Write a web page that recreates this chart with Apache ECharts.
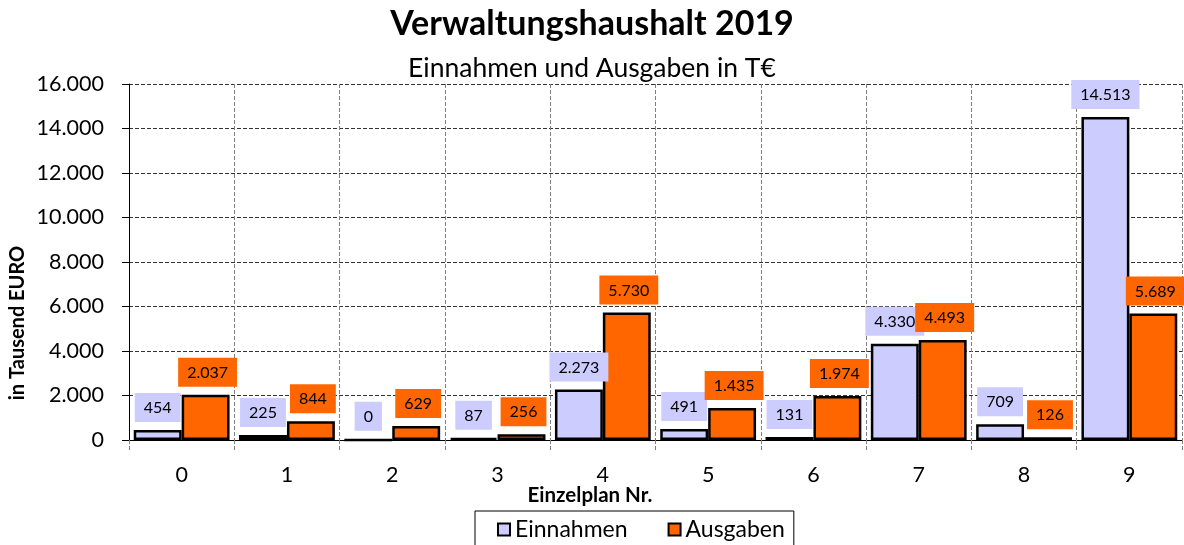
<!DOCTYPE html>
<html><head><meta charset="utf-8">
<script src="https://cdn.jsdelivr.net/npm/echarts@6/dist/echarts.min.js"></script>
<style>html,body{margin:0;padding:0;background:#fff}#c{width:1184px;height:545px}</style>
</head><body><div id="c"></div>
<script>
const categories = ['0','1','2','3','4','5','6','7','8','9'];
const einnahmen = [454, 225, 0, 87, 2273, 491, 131, 4330, 709, 14513];
const ausgaben = [2037, 844, 629, 256, 5730, 1435, 1974, 4493, 126, 5689];
const yTicks = [0, 2000, 4000, 6000, 8000, 10000, 12000, 14000, 16000];

const FONT = 'Lato, "Open Sans", sans-serif';
function de(v){ return String(v).replace(/\B(?=(\d{3})+(?!\d))/g, '.'); }

const chart = echarts.init(document.getElementById('c'));
function lbl(bg, dx){
  return {show:true, position:'top', distance:8, offset:[dx,0], color:'#000', fontFamily:FONT, fontSize:16,
    backgroundColor:bg, padding:[7,9,6,9], formatter:p=>de(p.value)};
}
chart.setOption({
  animation:false,
  title:[
    {text:'Verwaltungshaushalt 2019', left:'center', top:2, textStyle:{fontFamily:FONT, fontSize:34, fontWeight:'bold', color:'#000'}},
    {text:'Einnahmen und Ausgaben in T€', left:'center', top:50, textStyle:{fontFamily:FONT, fontSize:26.5, fontWeight:'normal', color:'#000'}}
  ],
  graphic:[
    {type:'text', x:18, y:323, rotation:Math.PI/2,
      style:{text:'in Tausend EURO', fontFamily:FONT, fontSize:20, fontWeight:'bold', fill:'#000', align:'center', verticalAlign:'middle'}},
    {type:'text', x:590, y:495,
      style:{text:'Einzelplan Nr.', fontFamily:FONT, fontSize:20.5, fontWeight:'bold', fill:'#000', align:'center', verticalAlign:'middle'}}
  ],
  legend:{left:475, top:511, data:['Einnahmen','Ausgaben'], icon:'rect', itemWidth:12, itemHeight:12, itemGap:40,
    borderColor:'#000', borderWidth:1, padding:[7,9,10,22],
    textStyle:{fontFamily:FONT, fontSize:23, color:'#000'}},
  grid:{left:129, right:2, top:84, bottom:105},
  xAxis:{type:'category', data:categories,
    axisLine:{lineStyle:{color:'#000', width:1}},
    axisTick:{show:true, length:10, lineStyle:{color:'#808080', type:'dashed'}},
    splitLine:{show:true, lineStyle:{color:'#808080', type:'dashed'}},
    axisLabel:{fontFamily:FONT, fontSize:21.5, color:'#000', margin:24}},
  yAxis:{type:'value', min:yTicks[0], max:yTicks[yTicks.length-1], interval:2000,
    axisLine:{show:true, lineStyle:{color:'#000', width:1}},
    axisTick:{show:true, length:7, lineStyle:{color:'#000'}},
    splitLine:{show:true, lineStyle:{color:'#333', type:'dashed'}},
    axisLabel:{fontFamily:FONT, fontSize:21.5, color:'#000', margin:25, formatter:v=>de(v)}},
  series:[
    {name:'Einnahmen', type:'bar', data:einnahmen, barGap:'0%', barCategoryGap:'9%',
      itemStyle:{color:'#ccccff', borderColor:'#000', borderWidth:2.5}, label:lbl('#ccccff', 0)},
    {name:'Ausgaben', type:'bar', data:ausgaben,
      itemStyle:{color:'#ff6600', borderColor:'#000', borderWidth:2.5}, label:lbl('#ff6600', 2)}
  ]
});
</script></body></html>
